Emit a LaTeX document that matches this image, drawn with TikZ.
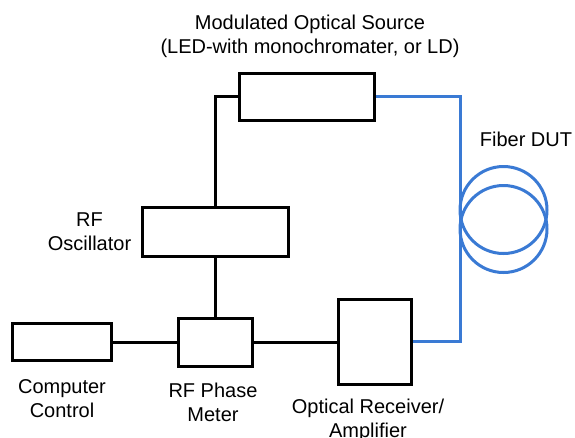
\documentclass[tikz,border=0pt]{standalone}
\usepackage{fontspec}
\setmainfont{Liberation Sans}
\definecolor{fiberblue}{RGB}{58,122,212}
\begin{document}
\begin{tikzpicture}[x=1pt,y=-1pt,
  blk/.style={draw=black,line width=3pt,minimum width=#1,inner sep=0pt},
  wire/.style={draw=black,line width=3pt},
  fiber/.style={draw=fiberblue,line width=3pt},
  lbl/.style={font=\fontsize{20}{24}\selectfont,align=center,inner sep=0pt,anchor=north}]
\useasboundingbox (0,0) rectangle (575,437);
% boxes
\node[blk=135pt,minimum height=47.5pt] (src) at (307,96.75) {};
\node[blk=146.5pt,minimum height=49pt] (osc) at (215.25,231.5) {};
\node[blk=74pt,minimum height=48.5pt] (pm) at (215,342.25) {};
\node[blk=98.5pt,minimum height=37pt] (cc) at (61.75,342) {};
\node[blk=73pt,minimum height=85pt] (rx) at (374.5,341.5) {};
% connectors
\draw[wire] (src.west) -| (osc.north);
\draw[wire] (osc.south) -- (osc.south |- pm.north);
\draw[wire] (cc.east) -- (cc.east -| pm.west);
\draw[wire] (pm.east) -- (pm.east -| rx.west);
\coordinate (fx) at (460,210);
\draw[fiber] (src.east) -| (fx) |- (rx.east);
\node[fiber,circle,minimum size=87pt,inner sep=0pt] (c1) at (503.5,210) {};
\node[fiber,circle,minimum size=87pt,inner sep=0pt] (c2) at (503.5,229) {};
% labels
\node[lbl] (tsrc) at (310,12.2) {\strut Modulated Optical Source\\(LED-with monochromater, or LD)};
\node[lbl,anchor=base] (tfib) at (526,146) {Fiber DUT};
\node[lbl] (tosc) at (89.5,209.2) {\strut RF\\Oscillator};
\node[lbl] (tcc) at (62,376.5) {\strut Computer\\Control};
\node[lbl] (tpm) at (213,380) {\strut RF Phase\\Meter};
\node[lbl] (trx) at (368,396.2) {\strut Optical Receiver/\\Amplifier};
\end{tikzpicture}
\end{document}
